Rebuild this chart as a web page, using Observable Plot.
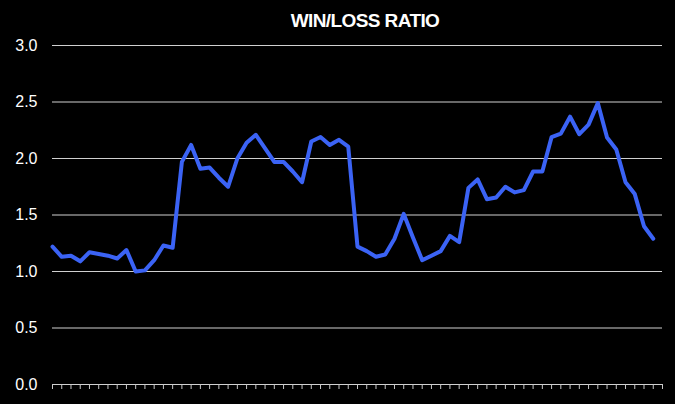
<!DOCTYPE html>
<html>
<head>
<meta charset="utf-8">
<script src="https://cdn.jsdelivr.net/npm/d3@7"></script>
<script src="https://cdn.jsdelivr.net/npm/@observablehq/plot@0.6"></script>
<style>
  body { margin: 0; background: #000; font-family: "Liberation Sans", Arial, sans-serif; }
  #title { position: absolute; top: 0; left: 0; width: 675px; box-sizing: border-box; padding-left: 55px;
           line-height: 42px; text-align: center; color: #fff; font-weight: bold; font-size: 19px; letter-spacing: -0.6px; }
</style>
</head>
<body>
<div id="chart"></div>
<div id="title">WIN/LOSS RATIO</div>
<script>
// ratio per game period
const ratios = [
  1.22, 1.13, 1.14, 1.09, 1.17, 1.155, 1.14, 1.115, 1.19, 1.00,
  1.01, 1.10, 1.23, 1.21, 1.97, 2.12, 1.91, 1.92, 1.83, 1.75,
  2.00, 2.14, 2.21, 2.09, 1.97, 1.97, 1.885, 1.79, 2.15, 2.19,
  2.12, 2.165, 2.105, 1.22, 1.18, 1.13, 1.15, 1.29, 1.51, 1.30,
  1.10, 1.14, 1.18, 1.315, 1.26, 1.74, 1.815, 1.64, 1.655, 1.75,
  1.70, 1.72, 1.885, 1.885, 2.19, 2.22, 2.37, 2.215, 2.30, 2.49,
  2.185, 2.08, 1.79, 1.685, 1.40, 1.29
]
const periods = d3.range(ratios.length)
const nSlots = 66            // category axis has one empty slot at the end
const yTicks = [0, 0.5, 1, 1.5, 2, 2.5, 3]

const data = periods.map(i => ({ period: i, ratio: ratios[i] }))

let chart = Plot.plot({
  width: 675,
  height: 404,
  marginTop: 45,
  marginBottom: 20,
  marginLeft: 52,
  marginRight: 13,
  style: { background: "#000", color: "#fff", fontFamily: "Liberation Sans, Arial, sans-serif", fontSize: "15px" },
  x: { domain: [0, nSlots], axis: null },
  y: { domain: [0, 3], axis: null },
  marks: [
    Plot.ruleY(yTicks.slice(1), { stroke: "#d0d0d0", strokeWidth: 1.2 }),
    Plot.ruleY([0], { stroke: "#d0d0d0", strokeWidth: 1.2 }),
    Plot.ruleX(d3.range(nSlots + 1), { x: d => d, y1: 0, y2: 0, insetBottom: -5, stroke: "#c8c8c8" }),
    Plot.text(yTicks, {
      x: 0, y: d => d, text: d => d.toFixed(1),
      textAnchor: "end", dx: -15, fill: "#fff", fontSize: 16
    }),
    Plot.line(data, { x: "period", y: "ratio", stroke: "#3B63F5", strokeWidth: 4 })
  ]
})

d3.select('#chart').append(() => chart)
</script>
</body>
</html>
